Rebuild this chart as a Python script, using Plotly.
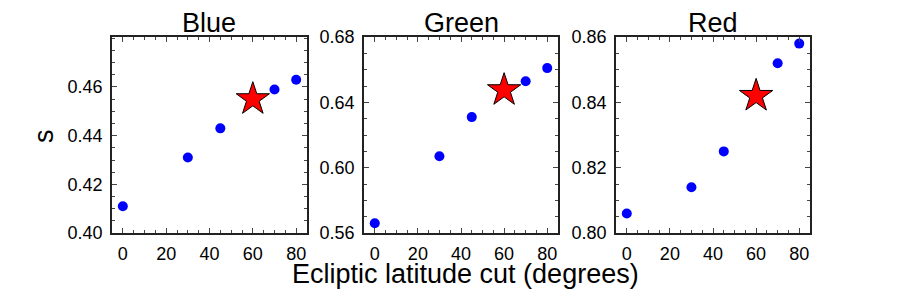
import plotly.graph_objects as go

lat_cut = [0, 30, 45, 70, 80]
blue_s = [0.411, 0.431, 0.443, 0.459, 0.463]
green_s = [0.566, 0.607, 0.631, 0.653, 0.661]
red_s = [0.806, 0.814, 0.825, 0.852, 0.858]
star_cut = [60]
blue_star = [0.455]
green_star = [0.6475]
red_star = [0.842]

panels = ["Blue", "Green", "Red"]
series = [blue_s, green_s, red_s]
stars = [blue_star, green_star, red_star]
y_ranges = [[0.40, 0.4805], [0.56, 0.68], [0.80, 0.86]]
y_ticks = [[0.40, 0.42, 0.44, 0.46], [0.56, 0.60, 0.64, 0.68], [0.80, 0.82, 0.84, 0.86]]
y_minor = [0.005, 0.01, 0.005]
x_ticks = [0, 20, 40, 60, 80]

W, H = 900, 300
x_doms = [(112, 307), (364, 558), (616, 810)]
y_top, y_bot = 29, 239

FONT = "Liberation Sans, Arial, sans-serif"
fig = go.Figure()
for i in range(3):
    sfx = "" if i == 0 else str(i + 1)
    fig.add_trace(go.Scatter(x=lat_cut, y=series[i], mode="markers",
                             marker=dict(color="#0000ff", size=10, line=dict(width=0)),
                             xaxis="x" + sfx, yaxis="y" + sfx, showlegend=False))
    fig.add_trace(go.Scatter(x=star_cut, y=stars[i], mode="markers",
                             marker=dict(symbol="star", color="#ff0000", size=25,
                                         line=dict(color="black", width=1)),
                             xaxis="x" + sfx, yaxis="y" + sfx, showlegend=False))
    common = dict(showline=True, linecolor="#222", linewidth=1.5, mirror="allticks",
                  ticks="inside", ticklen=5, tickwidth=1, tickcolor="#444",
                  showgrid=False, zeroline=False,
                  tickfont=dict(family=FONT, size=18, color="black"))
    xd = (x_doms[i][0] / W, x_doms[i][1] / W)
    yd = (1 - y_bot / H, 1 - y_top / H)
    fig.layout["xaxis" + sfx] = dict(common, domain=xd, range=[-5, 85], tickvals=x_ticks,
                                     anchor="y" + sfx, ticklabelstandoff=4,
                                     minor=dict(dtick=5, tick0=0, ticks="inside", ticklen=3,
                                                tickcolor="#444", showgrid=False))
    fig.layout["yaxis" + sfx] = dict(common, domain=yd, range=y_ranges[i], tickvals=y_ticks[i],
                                     tickformat=".2f", anchor="x" + sfx, ticklabelstandoff=4,
                                     minor=dict(dtick=y_minor[i], tick0=0, ticks="inside",
                                                ticklen=3, tickcolor="#444", showgrid=False))
    fig.add_annotation(text=panels[i], x=(xd[0] + xd[1]) / 2, y=1 - 14 / H,
                       xref="paper", yref="paper", showarrow=False,
                       xanchor="center", yanchor="middle",
                       font=dict(family=FONT, size=27, color="black"))

fig.add_annotation(text="s", x=44 / W, y=1 - 135 / H, xref="paper", yref="paper",
                   showarrow=False, textangle=-90, xanchor="center", yanchor="middle",
                   font=dict(family=FONT, size=27, color="black"))
fig.add_annotation(text="Ecliptic latitude cut (degrees)", x=465 / W, y=1 - 283 / H,
                   xref="paper", yref="paper", showarrow=False,
                   xanchor="center", yanchor="middle",
                   font=dict(family=FONT, size=27, color="black"))

fig.update_layout(width=W, height=H, margin=dict(l=0, r=0, t=0, b=0),
                  paper_bgcolor="white", plot_bgcolor="white")
fig.write_html("out.html", config={"displayModeBar": False},
               post_script="document.body.style.margin='0';document.documentElement.style.overflow='hidden';")
